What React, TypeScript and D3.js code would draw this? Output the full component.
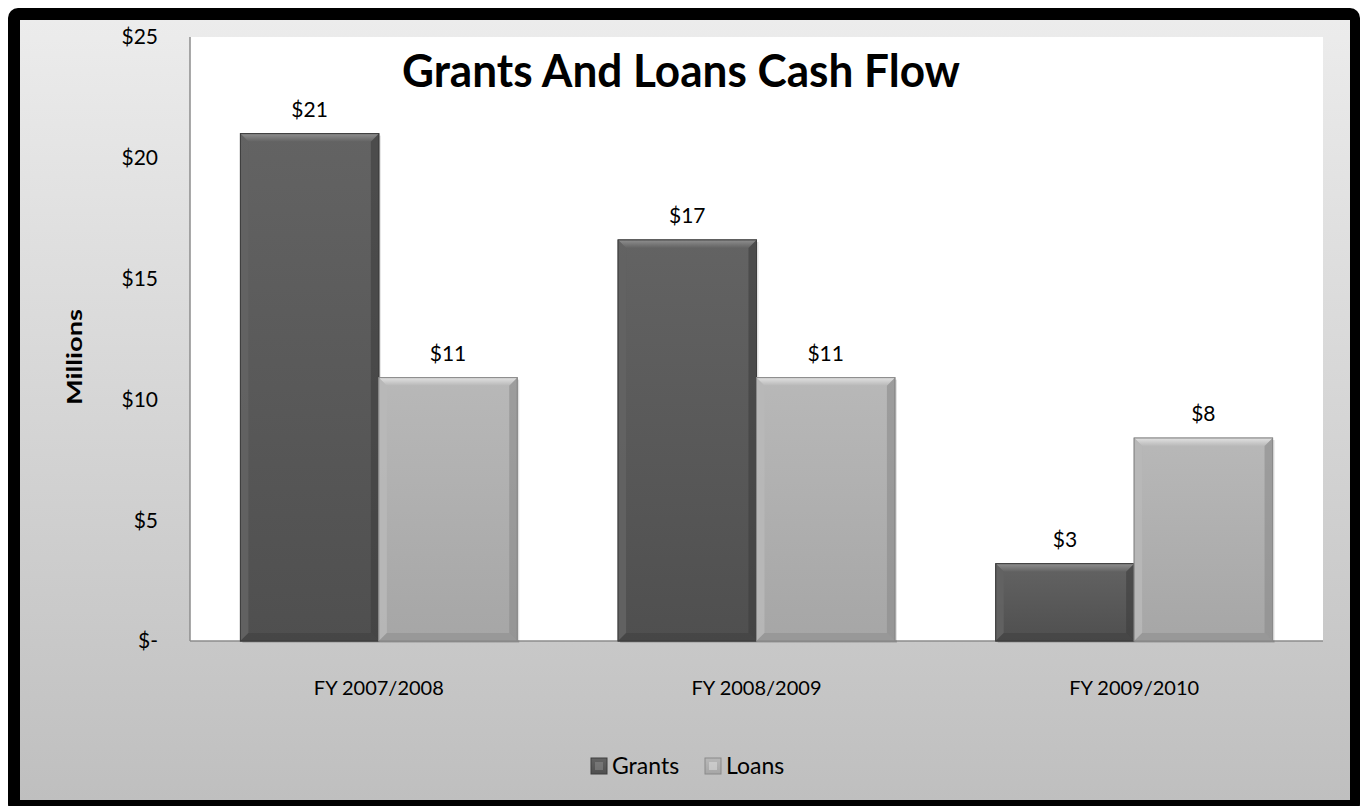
import React from 'react';
import * as d3 from 'd3';

const categories = ['FY 2007/2008', 'FY 2008/2009', 'FY 2009/2010'];
const seriesNames = ['Grants', 'Loans'];
const grants = [21.0, 16.6, 3.2];
const loans = [10.9, 10.9, 8.4];
const yTicks = [0, 5, 10, 15, 20, 25];

const FONT = 'Lato, "Open Sans", sans-serif';

const palette: Record<string, { top: string; bottom: string; light: string; dark: string }> = {
  Grants: { top: '#636363', bottom: '#4f4f4f', light: '#8f8f8f', dark: '#3e3e3e' },
  Loans: { top: '#b8b8b8', bottom: '#a6a6a6', light: '#e2e2e2', dark: '#8a8a8a' },
};

const App: React.FC = () => {
  const plot = { left: 190, right: 1323, top: 37, bottom: 641 };

  const y = d3.scaleLinear().domain([0, 25]).range([plot.bottom, plot.top]);
  const x0 = d3.scaleBand()
    .domain(categories)
    .range([plot.left, plot.right])
    .paddingInner(0.267)
    .paddingOuter(0.1335);
  const x1 = d3.scaleBand().domain(seriesNames).range([0, x0.bandwidth()]);

  const rows = categories.map((c, i) => ({ category: c, values: [grants[i], loans[i]] }));
  const fmt = (v: number) => (v === 0 ? '$-' : `$${Math.round(v)}`);
  const bev = 8;

  return (
    <svg width={1365} height={806} style={{ position: 'absolute', left: 0, top: 0, display: 'block' }}>
      <defs>
        <linearGradient id="bg" x1="0" y1="0" x2="0" y2="1">
          <stop offset="0%" stopColor="#ececec" />
          <stop offset="100%" stopColor="#bfbfbf" />
        </linearGradient>
        {seriesNames.map(s => (
          <linearGradient key={s} id={`g-${s}`} x1="0" y1="0" x2="0" y2="1">
            <stop offset="0%" stopColor={palette[s].top} />
            <stop offset="100%" stopColor={palette[s].bottom} />
          </linearGradient>
        ))}
        {seriesNames.map(s => (
          <linearGradient key={s + 'b'} id={`t-${s}`} x1="0" y1="0" x2="0" y2="1">
            <stop offset="0%" stopColor={palette[s].light} />
            <stop offset="100%" stopColor={palette[s].top} />
          </linearGradient>
        ))}
      </defs>

      {/* frame */}
      <rect x={8} y={8} width={1352} height={806} rx={10} fill="#000" />
      <rect x={20} y={20} width={1330} height={780} fill="url(#bg)" />
      <rect x={plot.left} y={plot.top} width={plot.right - plot.left} height={plot.bottom - plot.top} fill="#fff" />

      {/* axes */}
      <line x1={plot.left} x2={plot.left} y1={plot.top} y2={plot.bottom} stroke="#8c8c8c" strokeWidth={1.5} />
      <line x1={plot.left} x2={plot.right} y1={plot.bottom} y2={plot.bottom} stroke="#8c8c8c" strokeWidth={1.5} />

      {yTicks.map(t => (
        <text key={t} x={158} y={y(t)} dy="0.35em" textAnchor="end" fontFamily={FONT} fontSize={21} fill="#000">
          {fmt(t)}
        </text>
      ))}

      <text
        transform={`translate(82,357) rotate(-90)`}
        textAnchor="middle"
        fontFamily={FONT}
        fontSize={20}
        fontWeight="bold"
        textLength={96}
        lengthAdjust="spacingAndGlyphs"
        fill="#000"
      >
        Millions
      </text>

      {categories.map(c => (
        <text key={c} x={x0(c)! + x0.bandwidth() / 2} y={688} dy="0.35em" textAnchor="middle" fontFamily={FONT} fontSize={20} fill="#000">
          {c}
        </text>
      ))}

      {/* bars */}
      {rows.map(r => (
        <g key={r.category} transform={`translate(${x0(r.category)},0)`}>
          {r.values.map((v, i) => {
            const s = seriesNames[i];
            const bx = x1(s)!;
            const bw = x1.bandwidth();
            const by = y(v);
            const bh = y(0) - y(v);
            const p = palette[s];
            return (
              <g key={s}>
                <rect x={bx + 2} y={by + 2} width={bw} height={bh} fill="#000" opacity={0.12} />
                <rect x={bx} y={by} width={bw} height={bh} fill={`url(#g-${s})`} stroke={p.dark} strokeWidth={1} />
                <polygon
                  points={`${bx},${by} ${bx + bw},${by} ${bx + bw - bev},${by + bev} ${bx + bev},${by + bev}`}
                  fill={`url(#t-${s})`}
                />
                <polygon
                  points={`${bx},${by} ${bx + bev},${by + bev} ${bx + bev},${by + bh - bev} ${bx},${by + bh}`}
                  fill={p.top}
                  opacity={0.9}
                />
                <polygon
                  points={`${bx + bw},${by} ${bx + bw - bev},${by + bev} ${bx + bw - bev},${by + bh - bev} ${bx + bw},${by + bh}`}
                  fill={p.dark}
                  opacity={0.6}
                />
                <polygon
                  points={`${bx},${by + bh} ${bx + bev},${by + bh - bev} ${bx + bw - bev},${by + bh - bev} ${bx + bw},${by + bh}`}
                  fill={p.dark}
                  opacity={0.5}
                />
                <rect x={bx} y={by} width={bw} height={bh} fill="none" stroke={p.dark} strokeWidth={1} />
                <text x={bx + bw / 2} y={by - 17} textAnchor="middle" fontFamily={FONT} fontSize={21} fill="#000">
                  {fmt(v)}
                </text>
              </g>
            );
          })}
        </g>
      ))}

      {/* title */}
      <text
        x={681}
        y={87}
        textAnchor="middle"
        fontFamily={FONT}
        fontSize={45}
        fontWeight="bold"
        textLength={558}
        lengthAdjust="spacingAndGlyphs"
        fill="#000"
      >
        Grants And Loans Cash Flow
      </text>

      {/* legend */}
      {seriesNames.map((s, i) => {
        const lx = i === 0 ? 591 : 705;
        const p = palette[s];
        return (
          <g key={s} transform={`translate(${lx},758)`}>
            <rect x={0} y={0} width={16} height={16} fill={`url(#g-${s})`} stroke={p.dark} strokeWidth={1} />
            <rect x={4} y={4} width={8} height={8} fill={p.light} opacity={0.5} />
            <text x={21} y={8} dy="0.35em" fontFamily={FONT} fontSize={23} fill="#000">
              {s}
            </text>
          </g>
        );
      })}
    </svg>
  );
};

export default App;
